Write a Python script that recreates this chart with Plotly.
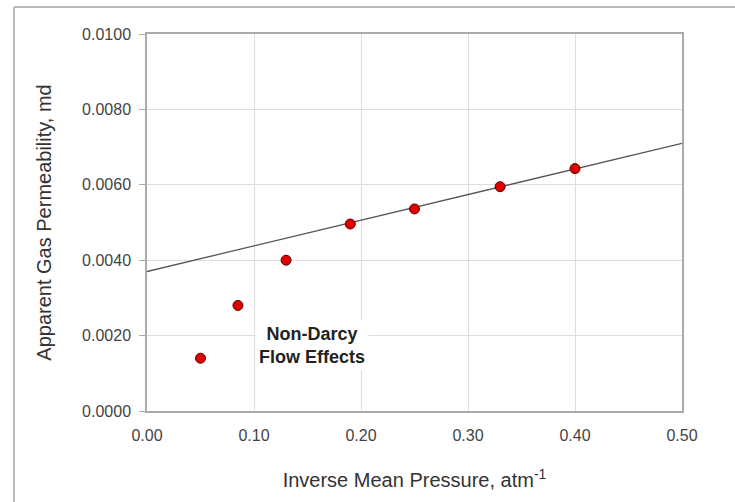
import plotly.graph_objects as go

# Measured permeability vs. inverse mean pressure
inv_pressure = [0.05, 0.085, 0.13, 0.19, 0.25, 0.33, 0.40]
permeability = [0.0014, 0.0028, 0.0040, 0.00496, 0.00536, 0.00595, 0.00643]

# Klinkenberg straight-line extrapolation
trend_x = [0.0, 0.5]
trend_y = [0.0037, 0.0071]

x_ticks = [0.0, 0.1, 0.2, 0.3, 0.4, 0.5]
y_ticks = [0.0, 0.002, 0.004, 0.006, 0.008, 0.010]

FONT = "Liberation Sans, Arial, sans-serif"

fig = go.Figure()

fig.add_trace(go.Scatter(
    x=trend_x, y=trend_y, mode="lines",
    line=dict(color="#555555", width=1.3),
    showlegend=False, hoverinfo="skip",
))

fig.add_trace(go.Scatter(
    x=inv_pressure, y=permeability, mode="markers",
    marker=dict(color="#e00000", size=10, line=dict(color="#5a0000", width=1)),
    showlegend=False,
))

fig.add_annotation(
    x=0.154, y=0.00175, xref="x", yref="y",
    text="<b>Non-Darcy<br>Flow Effects</b>",
    showarrow=False, bgcolor="white",
    font=dict(family=FONT, size=18, color="#222222"),
    align="center", borderpad=3,
)

# Outer frame (top and left edges)
fig.add_shape(type="line", xref="paper", yref="paper",
              x0=(14 - 147) / 535, x1=(735 - 147) / 535,
              y0=(411 - 7) / 377, y1=(411 - 7) / 377,
              line=dict(color="#bbbbbb", width=2))
fig.add_shape(type="line", xref="paper", yref="paper",
              x0=(14 - 147) / 535, x1=(14 - 147) / 535,
              y0=(411 - 7) / 377, y1=(411 - 502) / 377,
              line=dict(color="#bbbbbb", width=2))

fig.update_xaxes(
    range=[0, 0.5], tickvals=x_ticks, tickformat=".2f",
    showgrid=True, gridcolor="#dddddd", gridwidth=1,
    showline=True, linecolor="#aaaaaa", linewidth=1.5, mirror=True,
    ticks="", zeroline=False, ticklabelstandoff=9,
    tickfont=dict(family=FONT, size=16, color="#444444"),
    title=dict(text="Inverse Mean Pressure, atm<sup>-1</sup>",
               font=dict(family=FONT, size=20, color="#333333"), standoff=30),
)
fig.update_yaxes(
    range=[0, 0.010], tickvals=y_ticks, tickformat=".4f",
    showgrid=True, gridcolor="#dddddd", gridwidth=1,
    showline=True, linecolor="#aaaaaa", linewidth=1.5, mirror=True,
    ticks="outside", ticklen=6, tickcolor="#aaaaaa", zeroline=False,
    ticklabelstandoff=5,
    tickfont=dict(family=FONT, size=16, color="#444444"),
    title=dict(text="Apparent Gas Permeability, md",
               font=dict(family=FONT, size=20, color="#333333"), standoff=25),
)

fig.update_layout(
    width=735, height=502,
    margin=dict(l=147, r=53, t=34, b=91),
    paper_bgcolor="white", plot_bgcolor="white",
)

fig.write_html("out.html")
